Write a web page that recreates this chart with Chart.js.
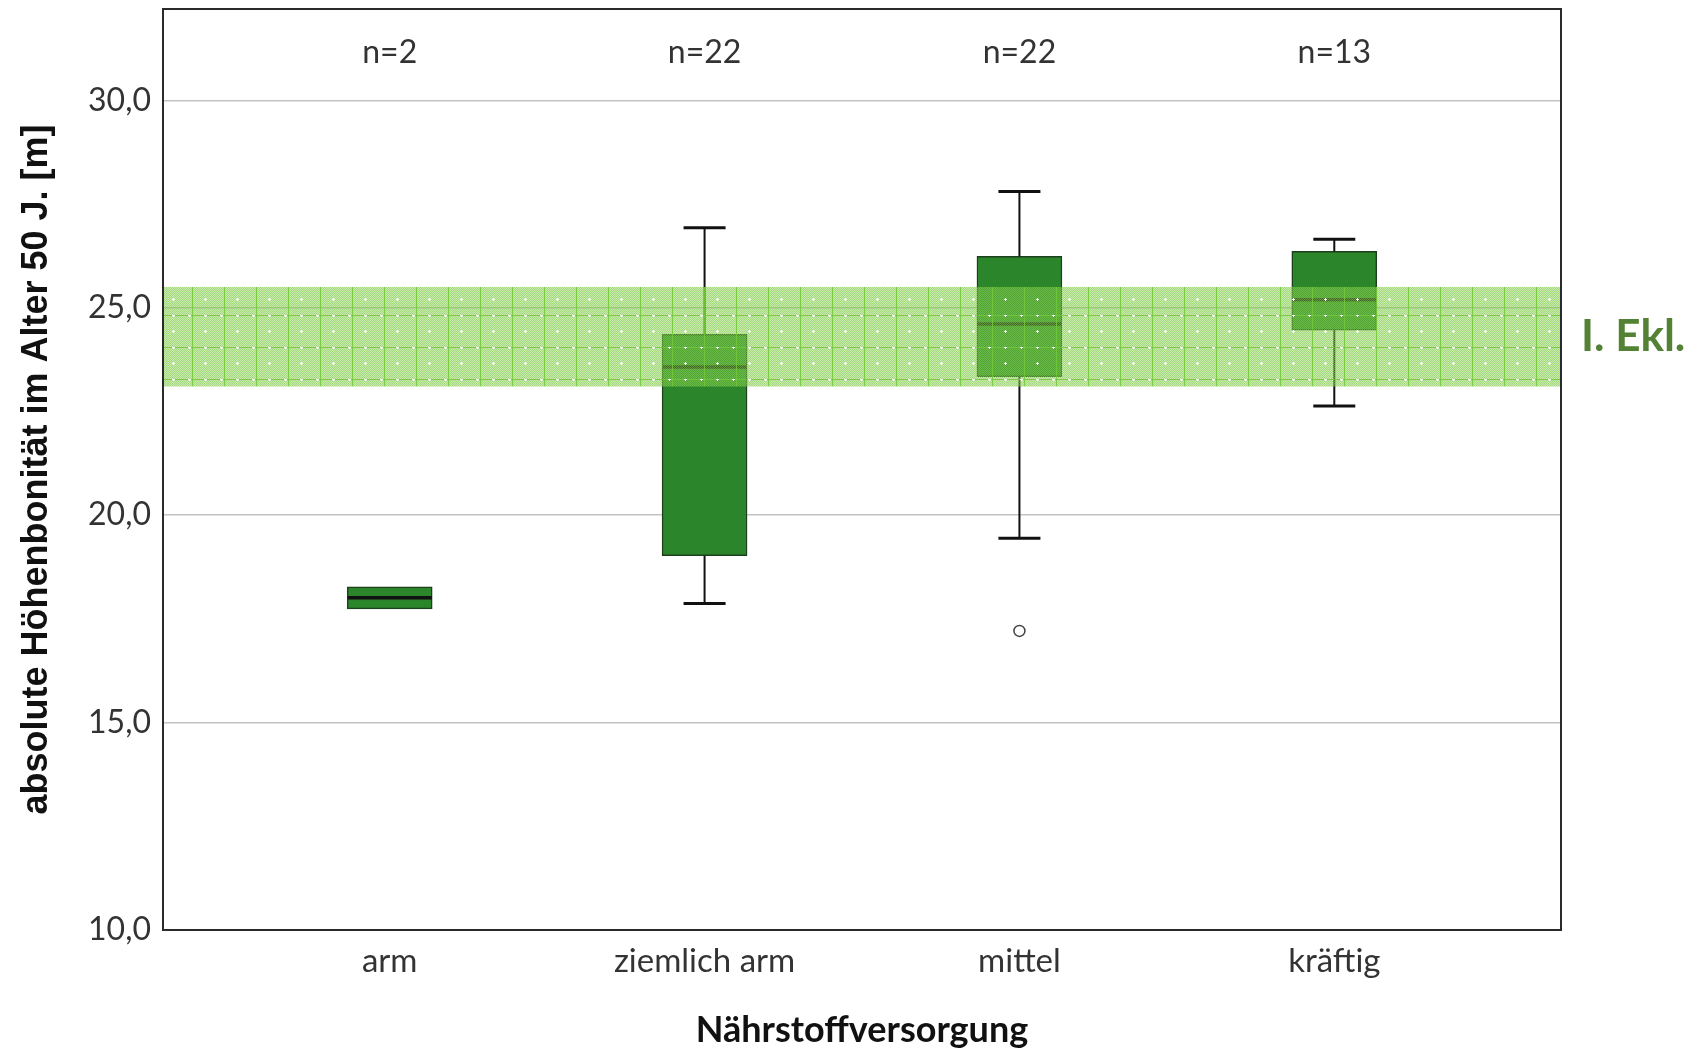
<!DOCTYPE html>
<html>
<head>
<meta charset="utf-8">
<script src="https://cdn.jsdelivr.net/npm/chart.js@4.4.0/dist/chart.umd.min.js"></script>
<style>
body { margin: 0; background: #fff; }
canvas { display: block; }
</style>
</head>
<body>
<canvas id="chart" width="1700" height="1054"></canvas>
<script>

const categories = ["arm", "ziemlich arm", "mittel", "kräftig"];
const nLabels = ["n=2", "n=22", "n=22", "n=13"];

const whiskerLow = [17.75, 17.87, 19.44, 22.63];
const q1 = [17.74, 19.02, 23.34, 24.46];
const median = [18.01, 23.57, 24.61, 25.19];
const q3 = [18.27, 24.36, 26.24, 26.36];
const whiskerHigh = [18.27, 26.93, 27.80, 26.65];

const outlierCat = [3];
const outlierValue = [17.21];

const yTicks = [10, 15, 20, 25, 30];

// I. Ertragsklasse
const bandLow = 23.1;
const bandHigh = 25.5;
const bandLabel = "I. Ekl.";

const boxColor = "#2b862b";
const bandLabelColor = "#548235";

function makeBandPattern(ctx) {

    const tile = document.createElement("canvas");
    tile.width = 32;
    tile.height = 32;
    const t = tile.getContext("2d");

    // fine checker texture
    for (let y = 0; y < 32; y++) {
        for (let x = 0; x < 32; x++) {
            t.fillStyle = (x + y) % 2 == 0 ?
                "rgba(130,205,75,0.72)" :
                "rgba(130,205,75,0.45)";
            t.fillRect(x, y, 1, 1);
        }
    }

    t.fillStyle = "rgba(115,200,55,0.85)";
    t.fillRect(0, 0, 1, 32);
    t.fillRect(0, 0, 32, 1);

    t.fillStyle = "rgba(255,255,255,0.95)";
    [[13, 0], [29, 0], [13, 16]].forEach(p => {
        t.fillRect(p[0] - 1, p[1], 3, 1);
        t.fillRect(p[0], p[1] - 1, 1, 3);
    });

    return ctx.createPattern(tile, "repeat");
}

const boxPlugin = {

    id: "boxExtras",

    afterDatasetsDraw(chart) {

        const ctx = chart.ctx;
        const xs = chart.scales.x;
        const ys = chart.scales.y;
        const area = chart.chartArea;

        ctx.save();

        // whiskers and caps
        ctx.strokeStyle = "#111";
        categories.forEach((c, i) => {
            const x = xs.getPixelForValue(i + 1);
            const capHalf = 21;
            if (whiskerHigh[i] > q3[i]) {
                ctx.lineWidth = 2;
                ctx.beginPath();
                ctx.moveTo(x, ys.getPixelForValue(q3[i]));
                ctx.lineTo(x, ys.getPixelForValue(whiskerHigh[i]));
                ctx.stroke();
                ctx.lineWidth = 3;
                ctx.beginPath();
                ctx.moveTo(x - capHalf, ys.getPixelForValue(whiskerHigh[i]));
                ctx.lineTo(x + capHalf, ys.getPixelForValue(whiskerHigh[i]));
                ctx.stroke();
            }
            if (whiskerLow[i] < q1[i]) {
                ctx.lineWidth = 2;
                ctx.beginPath();
                ctx.moveTo(x, ys.getPixelForValue(q1[i]));
                ctx.lineTo(x, ys.getPixelForValue(whiskerLow[i]));
                ctx.stroke();
                ctx.lineWidth = 3;
                ctx.beginPath();
                ctx.moveTo(x - capHalf, ys.getPixelForValue(whiskerLow[i]));
                ctx.lineTo(x + capHalf, ys.getPixelForValue(whiskerLow[i]));
                ctx.stroke();
            }

            // median
            ctx.lineWidth = 3.5;
            ctx.beginPath();
            ctx.moveTo(x - 42, ys.getPixelForValue(median[i]));
            ctx.lineTo(x + 42, ys.getPixelForValue(median[i]));
            ctx.stroke();
        });

        // hatched band over the boxes
        const yTop = ys.getPixelForValue(bandHigh);
        const yBot = ys.getPixelForValue(bandLow);
        const pattern = makeBandPattern(ctx);
        pattern.setTransform(new DOMMatrix().translate(area.left + 29, yTop + 28));
        ctx.fillStyle = pattern;
        ctx.fillRect(area.left, yTop, area.right - area.left, yBot - yTop);

        // band label
        ctx.fillStyle = bandLabelColor;
        ctx.font = "bold 44px Lato";
        ctx.textAlign = "left";
        ctx.textBaseline = "middle";
        ctx.fillText(bandLabel, area.right + 20, (yTop + yBot) / 2);

        // n labels
        ctx.fillStyle = "#333";
        ctx.font = "32px Lato";
        ctx.textAlign = "center";
        nLabels.forEach((n, i) => {
            ctx.fillText(n, xs.getPixelForValue(i + 1), ys.getPixelForValue(31.15));
        });

        // frame
        ctx.strokeStyle = "#2a2a2a";
        ctx.lineWidth = 2;
        ctx.strokeRect(area.left, area.top, area.right - area.left, area.bottom - area.top);

        ctx.restore();
    }

};

new Chart(document.getElementById("chart"), {

    type: "bar",

    data: {

        datasets: [

            {
                type: "bar",
                data: categories.map((c, i) => ({ x: i + 1, y: [q1[i], q3[i]] })),
                backgroundColor: boxColor,
                borderColor: "#1c3f1c",
                borderWidth: 1.5,
                borderSkipped: false,
                barThickness: 85,
                grouped: false,
                order: 2
            },

            {
                type: "scatter",
                data: outlierCat.map((c, i) => ({ x: c, y: outlierValue[i] })),
                pointRadius: 5.5,
                pointBackgroundColor: "#fff",
                pointBorderColor: "#444",
                pointBorderWidth: 1.5,
                order: 1
            }

        ]

    },

    options: {

        responsive: false,
        devicePixelRatio: 1,
        animation: false,

        layout: {
            padding: { top: 9, right: 139, left: 0, bottom: 0 }
        },

        plugins: {
            legend: { display: false },
            tooltip: { enabled: false }
        },

        scales: {

            x: {
                type: "linear",
                min: 0.28,
                max: 4.72,
                offset: false,
                afterBuildTicks: s => {
                    s.ticks = categories.map((c, i) => ({ value: i + 1 }));
                },
                afterFit: s => {
                    s.height = 124;
                    s.paddingLeft = 0;
                    s.paddingRight = 0;
                },
                grid: { display: false, drawTicks: false, offset: false },
                border: { display: false },
                ticks: {
                    autoSkip: false,
                    maxRotation: 0,
                    padding: 12,
                    color: "#333",
                    font: { family: "Lato", size: 33 },
                    callback: v => categories[v - 1] ?? ""
                },
                title: {
                    display: true,
                    text: "Nährstoffversorgung",
                    color: "#111",
                    font: { family: "Lato", size: 36, weight: "bold" },
                    padding: { top: 0, bottom: 2 }
                }
            },

            y: {
                min: 10,
                max: 32.2,
                afterBuildTicks: s => {
                    s.ticks = yTicks.map(v => ({ value: v }));
                },
                afterFit: s => {
                    s.width = 163;
                    s.paddingTop = 0;
                    s.paddingBottom = 0;
                },
                grid: {
                    drawTicks: false,
                    lineWidth: 1.5,
                    color: c => c.tick && c.tick.value == 10 ? "rgba(0,0,0,0)" : "#c4c4c4"
                },
                border: { display: false },
                ticks: {
                    padding: 12,
                    color: "#333",
                    font: { family: "Lato", size: 32 },
                    callback: v => v.toFixed(1).replace(".", ",")
                },
                title: {
                    display: true,
                    text: "absolute Höhenbonität im Alter 50 J. [m]",
                    color: "#111",
                    font: { family: "Liberation Sans", size: 36, weight: "bold" },
                    padding: { top: 15, bottom: 0 }
                }
            }

        }

    },

    plugins: [boxPlugin]

});

</script>
</body>
</html>
